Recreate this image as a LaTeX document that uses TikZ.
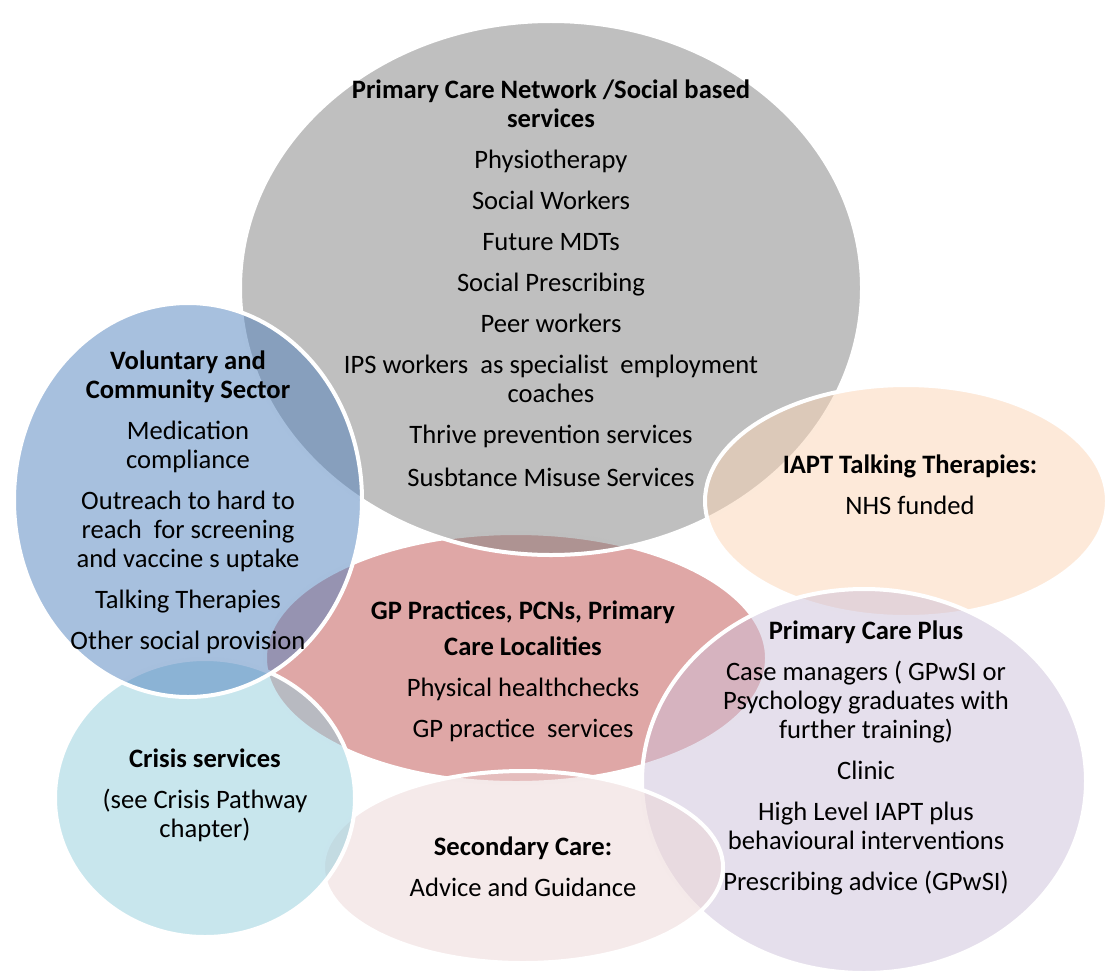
\documentclass[tikz,border=0pt]{standalone}
\usepackage{fontspec}
\setmainfont{Carlito}
\usepackage{xcolor}
\usepackage{tikz}
\usetikzlibrary{shapes.geometric}

\definecolor{gpred}{HTML}{C0504D}
\definecolor{pcngray}{HTML}{7F7F7F}
\definecolor{iaptpeach}{HTML}{FBD4B4}
\definecolor{pcplilac}{HTML}{CCC0D9}
\definecolor{secpink}{HTML}{EBD5D5}
\definecolor{crisisaqua}{HTML}{92CDDC}
\definecolor{vcsblue}{HTML}{4F81BD}

\begin{document}
\begin{tikzpicture}[x=0.5pt,y=-0.5pt,
    bubble/.style={ellipse, draw=white, line width=2pt, fill opacity=0.5, text opacity=1, inner sep=0pt},
    txt/.style={align=center, font=\fontsize{13.3}{14.5}\selectfont, inner sep=0pt}]
    \useasboundingbox (0,0) rectangle (1106,974);
    % bottom of the stack
    \node[bubble, fill=gpred, minimum width=251pt, minimum height=125pt] (gp) at (516,658) {};
    \node[txt] (gp-txt) at (523,671) {\textbf{GP Practices, PCNs, Primary}\\[3.5pt] \textbf{Care Localities}\\[6pt] Physical healthchecks\\[6pt] GP practice\ \ services};
    \node[bubble, fill=pcngray, minimum width=311pt, minimum height=267pt] (pcn) at (551,288) {};
    \node[txt] (pcn-txt) at (551,283) {\textbf{Primary Care Network /Social based}\\ \textbf{services}\\[6pt] Physiotherapy\\[6pt] Social Workers\\[6pt] Future MDTs\\[6pt] Social Prescribing\\[6pt] Peer workers\\[6pt] IPS workers\ \ as specialist\ \ employment\\ coaches\\[6pt] Thrive prevention services\\[7pt] Susbtance Misuse Services};
    \node[bubble, fill=iaptpeach, minimum width=201pt, minimum height=116pt] (iapt) at (906,501) {};
    \node[txt] (iapt-txt) at (910,485) {\textbf{IAPT Talking Therapies:}\\[6pt] NHS funded};
    \node[bubble, fill=pcplilac, minimum width=222pt, minimum height=192pt] (pcp) at (864,781) {};
    \node[txt] (pcp-txt) at (866,757.5) {\textbf{Primary Care Plus}\\[6pt] Case managers ( GPwSI or\\ Psychology graduates with\\ further training)\\[6pt] Clinic\\[6pt] High Level IAPT plus\\ behavioural interventions\\[6pt] Prescribing advice (GPwSI)};
    \node[bubble, fill=secpink, minimum width=200pt, minimum height=96pt] (sec) at (523,867) {};
    \node[txt] (sec-txt) at (523,867) {\textbf{Secondary Care:}\\[6pt] Advice and Guidance};
    \node[bubble, fill=crisisaqua, minimum width=150pt, minimum height=139pt] (crisis) at (205,798) {};
    \node[txt] (crisis-txt) at (205,795) {\textbf{Crisis services}\\[6pt] (see Crisis Pathway\\ chapter)};
    % top of the stack
    \node[bubble, fill=vcsblue, minimum width=174pt, minimum height=197pt] (vcs) at (188,500) {};
    \node[txt] (vcs-txt) at (188,502) {\textbf{Voluntary and}\\ \textbf{Community Sector}\\[6pt] Medication\\ compliance\\[6pt] Outreach to hard to\\ reach\ \ for screening\\ and vaccine s uptake\\[6pt] Talking Therapies\\[6pt] Other social provision};
\end{tikzpicture}
\end{document}
